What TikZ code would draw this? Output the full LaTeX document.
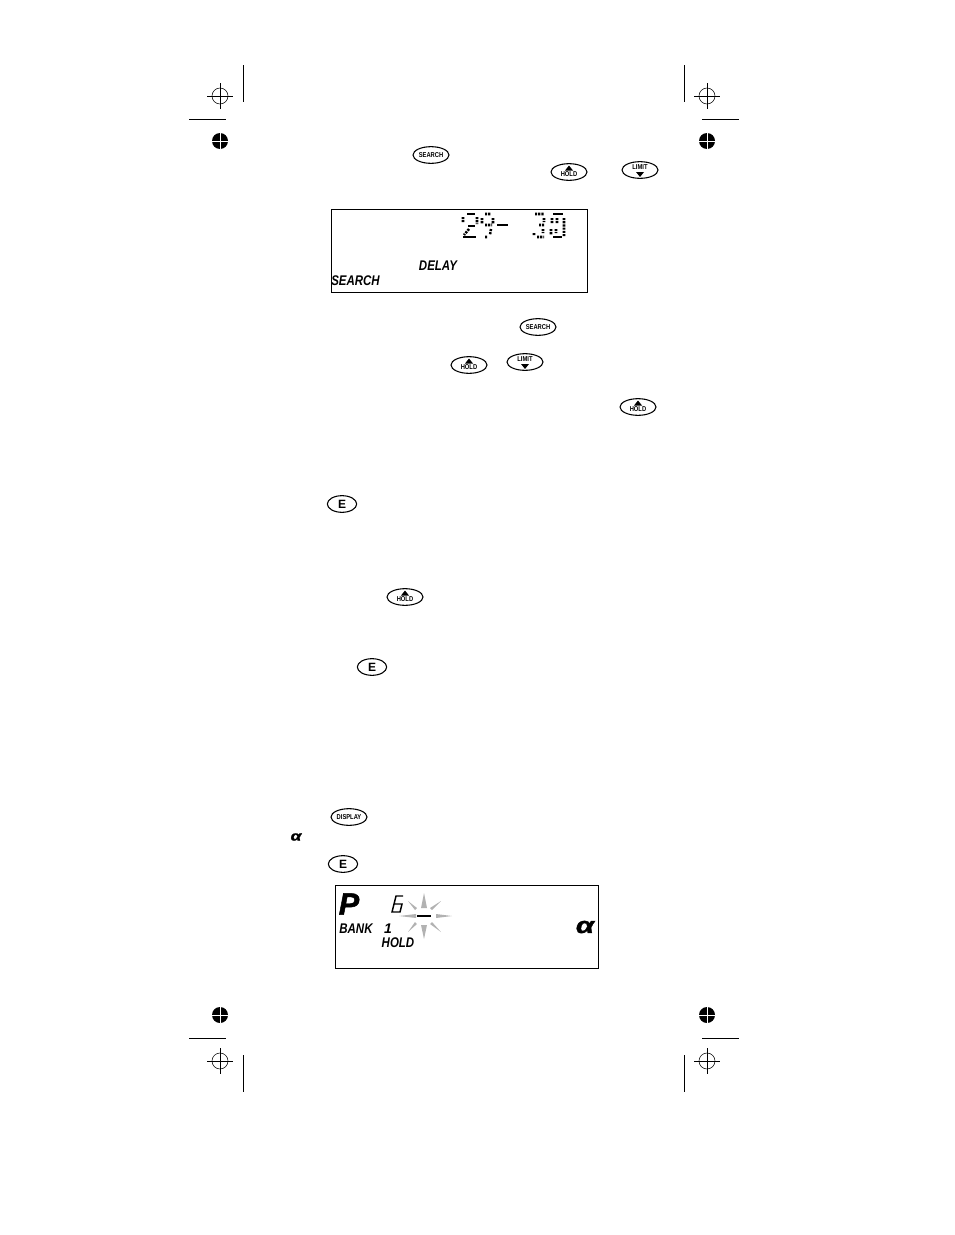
\documentclass[tikz,border=0pt]{standalone}
\usepackage{fontspec}
\usepackage{graphicx}
\setmainfont{Liberation Sans}
\newfontfamily\heavyfont[BoldItalicFeatures={FakeBold=1.5}]{Liberation Sans}
\newcommand{\narrowtxt}[1]{\scalebox{0.82}[1]{#1}}
\newcommand{\widetxt}[1]{\scalebox{1.3}[1]{#1}}
\usetikzlibrary{shapes.geometric,positioning}

\begin{document}
\begin{tikzpicture}[x=0.75pt, y=-0.75pt,
      btn/.style={draw, ellipse, line width=0.8pt, minimum width=27pt, minimum height=12.5pt,
        inner sep=0pt, font=\bfseries\fontsize{5.3}{6}\selectfont},
      ebtn/.style={btn, minimum width=22pt, font=\bfseries\fontsize{9}{9}\selectfont},
      lcdtext/.style={inner sep=0pt, font=\bfseries\itshape\fontsize{10.5}{11}\selectfont},
      heavytext/.style={inner sep=0pt, font=\heavyfont\bfseries\itshape\fontsize{#1}{#1}\selectfont},
      crop/.style={line width=0.6pt},
      thin cross/.style={line width=0.4pt},
      seg/.style={line width=1.9pt, dash pattern=on 1.6pt off 0.8pt},
      bar/.style={line width=1.9pt},
      ray/.style={fill=black!30}]

     \useasboundingbox (0,0) rectangle (954,1235);

     % crop marks
     \foreach \px in {220,707} {
       \foreach \py in {96,1061} {
         \draw[thin cross] (\px,\py) circle (8);
         \draw[thin cross] (\px-13,\py) -- (\px+13,\py) (\px,\py-13) -- (\px,\py+13);
       }
       \foreach \py in {141,1015} {
         \fill (\px,\py) circle (8);
         \draw[white, thin cross] (\px-8,\py) -- (\px+8,\py) (\px,\py-8) -- (\px,\py+8);
       }
     }
     \draw[crop] (243,65) -- (243,102) (684.5,65) -- (684.5,102)
                 (243,1055) -- (243,1092) (684.5,1055) -- (684.5,1092);
     \draw[crop] (189,119) -- (226,119) (702,119) -- (739,119)
                 (189,1038) -- (226,1038) (702,1038) -- (739,1038);

     % buttons
     \node[btn] (search1) at (431,155) {\narrowtxt{SEARCH}};
     \node[btn] (search2) at (538,327) {\narrowtxt{SEARCH}};
     \node[btn] (display) at (349,817) {\narrowtxt{DISPLAY}};
     \node[ebtn] (e1) at (342,504) {E};
     \node[ebtn] (e2) at (372,667) {E};
     \node[ebtn] (e3) at (343,864) {E};
     \foreach \nm/\px/\py in {hold1/569/172, hold2/469/365, hold3/638/407, hold4/405/597} {
       \node[btn] (\nm) at (\px,\py) {\raisebox{-3.6pt}[0pt][0pt]{\narrowtxt{HOLD}}};
       \fill (\px-4,\py-1.5) -- (\px+4,\py-1.5) -- (\px,\py-6.5) -- cycle;
     }
     \foreach \nm/\px/\py in {limit1/640/170, limit2/525/362} {
       \node[btn] (\nm) at (\px,\py) {\raisebox{0.2pt}[0pt][0pt]{\narrowtxt{LIMIT}}};
       \fill (\px-4,\py+2) -- (\px+4,\py+2) -- (\px,\py+7) -- cycle;
     }
     \node[heavytext=10] (alpha1) at (296,837) {\widetxt{α}};

     % search display
     \draw[crop] (331,209) rectangle (587,292);
     \node[lcdtext] (delay) at (438,266) {\narrowtxt{DELAY}};
     \node[lcdtext] (searchlbl) at (355.5,281) {\narrowtxt{SEARCH}};
     \draw[bar] (467,214) -- (475,214) (468,226) -- (475,226) (463,237) -- (476,237)
                (497,225) -- (508,225) (553,214) -- (563,214) (553,237) -- (562,237);
     \draw[seg] (463,217) -- (463,222) (477,217) -- (477,224) (469,229) -- (464,235)
                (485,214) -- (491,214) (482,218) -- (482,224) (493,218) -- (493,224)
                (485,225) -- (492,225) (491,229) -- (490,235) (485,237) -- (488,237)
                (535,214) -- (544,214) (544,218) -- (544,222) (539,225) -- (544,225)
                (543,229) -- (543,233) (537,237) -- (544,237) (534,233) -- (534,235)
                (552,218) -- (552,223) (564,218) -- (564,236) (551,229) -- (551,235)
                (557,218) -- (557,223) (556,229) -- (556,233);

     % bank display
     \draw[crop] (335,885) rectangle (598.5,968);
     \node[heavytext=23] (bigp) at (349,904) {P};
     \node[lcdtext] (bank) at (356,929) {\narrowtxt{BANK}};
     \node[lcdtext] (one) at (388,929) {1};
     \node[lcdtext] (holdlbl) at (398,943) {\narrowtxt{HOLD}};
     \node[heavytext=17] (alpha2) at (585,927) {\widetxt{α}};
     \draw[line width=1.1pt] (403,896) -- (396,896) -- (392,912) -- (400,912) -- (402,904) -- (394,904);

     % flashing star
     \foreach \tx/\ty/\ax/\ay/\bx/\by in {424/893/421/908/427/908, 424/939/421/925/427/925,
         399/916/416/914/416/918, 452/916/436/914/436/918,
         408/901/415/910/417/908, 441/901/432/910/430/908,
         408/932/415/922/417/924, 441/932/432/922/430/924} {
       \fill[ray] (\tx,\ty) -- (\ax,\ay) -- (\bx,\by) -- cycle;
     }
     \draw[line width=1.6pt] (417,916) -- (431,916);
  \end{tikzpicture}
\end{document}
